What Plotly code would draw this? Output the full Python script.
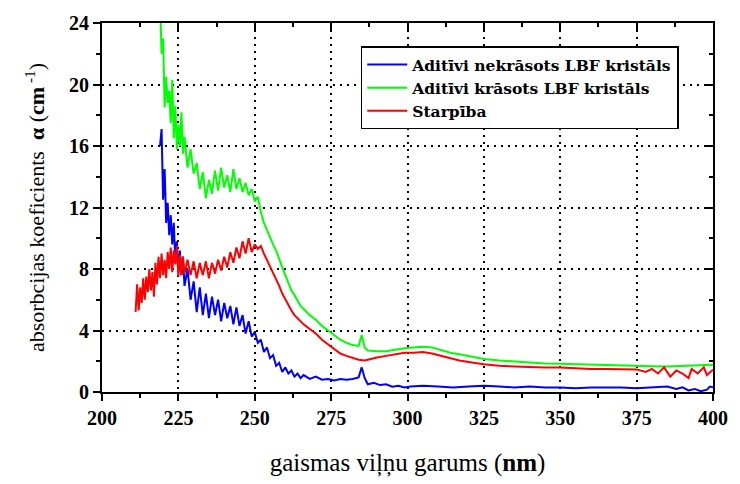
import plotly.graph_objects as go

# ---- data ----
green_x = [219.0, 219.5, 220.0, 220.5, 221.0, 221.5, 222.0, 222.5, 223.0, 223.5, 224.0, 224.5, 225.0, 225.5, 226.0, 226.5, 227,
           228, 229, 230, 231, 232, 233, 234, 235, 236, 237, 238, 239, 240, 241, 242, 243, 244, 245, 246, 247, 248, 249, 250,
           251, 252, 253, 254, 255, 256, 257, 258, 259, 260, 261, 262, 263, 264, 265, 266, 267, 268, 270, 272, 274, 276, 278,
           280, 282, 284, 285, 286, 287, 290, 293, 296, 299, 302, 305, 308, 311, 314, 317, 320, 325, 330, 335, 340, 345, 350,
           355, 360, 365, 370, 375, 380, 385, 390, 395, 400]
green_y = [25.5, 22.0, 23.0, 18.5, 20.5, 18.8, 19.6, 17.5, 20.3, 16.5, 18.6, 15.8, 17.4, 16.0, 18.2, 15.5, 16.6,
           14.6, 15.8, 14.2, 14.9, 13.2, 14.3, 12.6, 13.8, 12.9, 14.4, 13.1, 14.6, 13.3, 14.1, 13.0, 14.5, 13.2, 13.9, 13.0, 13.6, 12.8, 13.2, 12.4,
           12.7, 11.7, 11.0, 10.5, 10.0, 9.6, 9.2, 8.6, 8.1, 7.6, 7.1, 6.6, 6.3, 5.9, 5.6, 5.4, 5.2, 5.0, 4.7, 4.3, 4.0, 3.7, 3.4,
           3.2, 3.05, 3.0, 3.7, 2.9, 2.7, 2.65, 2.65, 2.75, 2.85, 2.9, 2.95, 2.9, 2.7, 2.55, 2.45, 2.35, 2.15, 2.05, 1.97, 1.9, 1.85, 1.83,
           1.8, 1.78, 1.74, 1.7, 1.68, 1.67, 1.66, 1.7, 1.72, 1.78]

red_x = [211.0, 211.5, 212.0, 212.5, 213.0, 213.5, 214.0, 214.5, 215.0, 215.5, 216.0, 216.5, 217.0, 217.5, 218.0, 218.5,
         219.0, 219.5, 220.0, 220.5, 221.0, 221.5, 222.0, 222.5, 223.0, 223.5, 224.0, 224.5, 225.0, 225.5, 226.0, 226.5,
         227, 228, 229, 230, 231, 232, 233, 234, 235, 236, 237, 238, 239, 240, 241, 242, 243, 244, 245, 246, 247, 248, 249, 250,
         251, 252, 253, 254, 255, 256, 257, 258, 259, 260, 261, 262, 263, 264, 265, 266, 268, 270, 272, 274, 276, 278, 280, 282,
         284, 286, 288, 290, 293, 296, 299, 302, 305, 308, 311, 314, 317, 320, 325, 330, 335, 340, 345, 350, 355, 360, 365, 370,
         375, 378, 380, 382, 384, 386, 388, 390, 392, 393, 395, 397, 398, 400]
red_y = [5.2, 7.0, 5.3, 6.8, 5.8, 7.4, 6.0, 7.5, 6.5, 8.0, 6.6, 7.8, 6.2, 8.4, 7.0, 8.8,
         7.4, 9.0, 7.6, 8.6, 7.4, 9.1, 8.0, 9.4, 7.8, 9.2, 8.3, 9.5, 7.5, 8.9, 7.6, 8.8,
         7.7, 8.6, 7.6, 8.5, 7.4, 8.4, 7.6, 8.5, 7.4, 8.4, 7.7, 8.6, 7.9, 8.8, 8.1, 9.1, 8.4, 9.4, 8.7, 9.8, 9.0, 10.0, 9.1, 9.6,
         9.3, 9.5, 9.0, 8.6, 8.2, 7.8, 7.3, 6.9, 6.4, 6.0, 5.6, 5.3, 5.0, 4.8, 4.6, 4.4, 4.1, 3.8, 3.4, 3.1, 2.8, 2.5, 2.35, 2.2,
         2.1, 2.05, 2.15, 2.25, 2.35, 2.45, 2.55, 2.55, 2.6, 2.5, 2.35, 2.2, 2.05, 1.95, 1.8, 1.7, 1.65, 1.62, 1.6, 1.6, 1.55, 1.5, 1.5, 1.48,
         1.47, 1.3, 1.5, 1.2, 1.6, 1.0, 1.4, 1.2, 0.9, 1.5, 1.2, 1.6, 1.1, 1.45]

blue_x = [219.0, 219.5, 220.0, 220.5, 221.0, 221.5, 222.0, 222.5, 223.0, 223.5, 224.0, 224.5, 225.0, 225.5, 226.0, 226.5,
          227, 228, 229, 230, 231, 232, 233, 234, 235, 236, 237, 238, 239, 240, 241, 242, 243, 244, 245, 246, 247, 248, 249, 250,
          251, 252, 253, 254, 255, 256, 257, 258, 259, 260, 261, 262, 263, 264, 265, 266, 268, 270, 272, 274, 276, 278, 280, 282,
          284, 285, 286, 287, 289, 291, 293, 295, 297, 299, 301, 305, 310, 315, 320, 325, 330, 335, 340, 345, 350, 355, 360, 365,
          370, 375, 380, 385, 388, 390, 392, 394, 396, 398, 399, 400]
blue_y = [16.0, 17.1, 12.5, 14.5, 11.0, 12.3, 10.2, 11.5, 9.6, 11.0, 8.5, 9.8, 7.8, 9.2, 7.6, 8.8,
          6.9, 8.0, 6.0, 7.2, 5.2, 6.8, 5.0, 6.4, 4.8, 6.2, 5.0, 6.0, 4.6, 5.8, 4.8, 5.6, 4.4, 5.5, 4.3, 5.0, 3.8, 4.6, 3.6, 3.9,
          3.2, 3.4, 2.6, 2.9, 2.2, 2.4, 1.7, 1.9, 1.3, 1.6, 1.2, 1.4, 1.0, 1.2, 0.9, 1.1, 0.85, 1.0, 0.8, 0.85, 0.75, 0.85, 0.8, 0.85,
          0.95, 1.6, 0.9, 0.5, 0.6, 0.45, 0.5, 0.35, 0.4, 0.3, 0.35, 0.4, 0.35, 0.3, 0.35, 0.4, 0.35, 0.3, 0.35, 0.3, 0.3, 0.25, 0.3, 0.3,
          0.3, 0.25, 0.3, 0.35, 0.2, 0.3, 0.1, 0.2, 0.05, 0.15, 0.35, 0.3]

series_names = ["Aditīvi nekrāsots LBF kristāls", "Aditīvi krāsots LBF kristāls", "Starpība"]
x_ticks = [200, 225, 250, 275, 300, 325, 350, 375, 400]
y_ticks = [0, 4, 8, 12, 16, 20, 24]

FONT = "Liberation Serif"

fig = go.Figure()
fig.add_trace(go.Scatter(x=blue_x, y=blue_y, mode="lines", name=series_names[0],
                         line=dict(color="#0000ff", width=2)))
fig.add_trace(go.Scatter(x=green_x, y=green_y, mode="lines", name=series_names[1],
                         line=dict(color="#00ff00", width=2)))
fig.add_trace(go.Scatter(x=red_x, y=red_y, mode="lines", name=series_names[2],
                         line=dict(color="#ff0000", width=2)))
# empty trace to activate the mirrored (top/right) axes with inward ticks
fig.add_trace(go.Scatter(x=[None], y=[None], xaxis="x2", yaxis="y2", showlegend=False, hoverinfo="skip"))

tickfont = dict(family=FONT, size=20, color="black", weight="bold")
axis_common = dict(showline=True, linecolor="black", linewidth=2, ticks="outside", ticklen=7, tickwidth=1.5,
                   tickcolor="black", showgrid=True, gridcolor="black", griddash="2px,5px", gridwidth=1.6,
                   zeroline=False, tickfont=tickfont)

fig.update_layout(
    width=740, height=484,
    margin=dict(l=102, r=17, t=20, b=86),
    paper_bgcolor="white", plot_bgcolor="white",
    font=dict(family=FONT, color="black"),
    xaxis=dict(range=[200, 400], tickvals=x_ticks, ticktext=[str(v) for v in x_ticks],
               minor=dict(dtick=12.5, tick0=200, ticks="outside", ticklen=4, tickcolor="black", tickwidth=1.5, showgrid=False),
               title=dict(text="gaismas viļņu garums (<b>nm</b>)", font=dict(family=FONT, size=25), standoff=25),
               **axis_common),
    yaxis=dict(range=[0, 24], tickvals=y_ticks, ticktext=[str(v) for v in y_ticks],
               minor=dict(dtick=2, tick0=0, ticks="outside", ticklen=4, tickcolor="black", tickwidth=1.5, showgrid=False),
               title=dict(text="absorbcijas koeficients  <b>α</b> (<b>cm</b><sup> -1</sup>)", font=dict(family=FONT, size=22), standoff=18),
               **axis_common),
    xaxis2=dict(range=[200, 400], overlaying="x", side="top", anchor="y2", showline=True, linecolor="black", linewidth=2,
                ticks="inside", ticklen=7, tickwidth=1.5, tickcolor="black", tickvals=x_ticks, showticklabels=False,
                showgrid=False, zeroline=False,
                minor=dict(dtick=12.5, tick0=200, ticks="inside", ticklen=4, tickcolor="black", tickwidth=1.5)),
    yaxis2=dict(range=[0, 24], overlaying="y", side="right", anchor="x2", showline=True, linecolor="black", linewidth=2,
                ticks="inside", ticklen=7, tickwidth=1.5, tickcolor="black", tickvals=y_ticks, showticklabels=False,
                showgrid=False, zeroline=False,
                minor=dict(dtick=2, tick0=0, ticks="inside", ticklen=4, tickcolor="black", tickwidth=1.5)),
    legend=dict(x=0.4235, y=0.9365, xanchor="left", yanchor="top", bgcolor="white", bordercolor="black", borderwidth=1.5,
                font=dict(family="DejaVu Serif", size=15.5, color="black", weight="bold"), tracegroupgap=0, itemwidth=40),
    showlegend=True,
)

fig.write_html("out.html")
